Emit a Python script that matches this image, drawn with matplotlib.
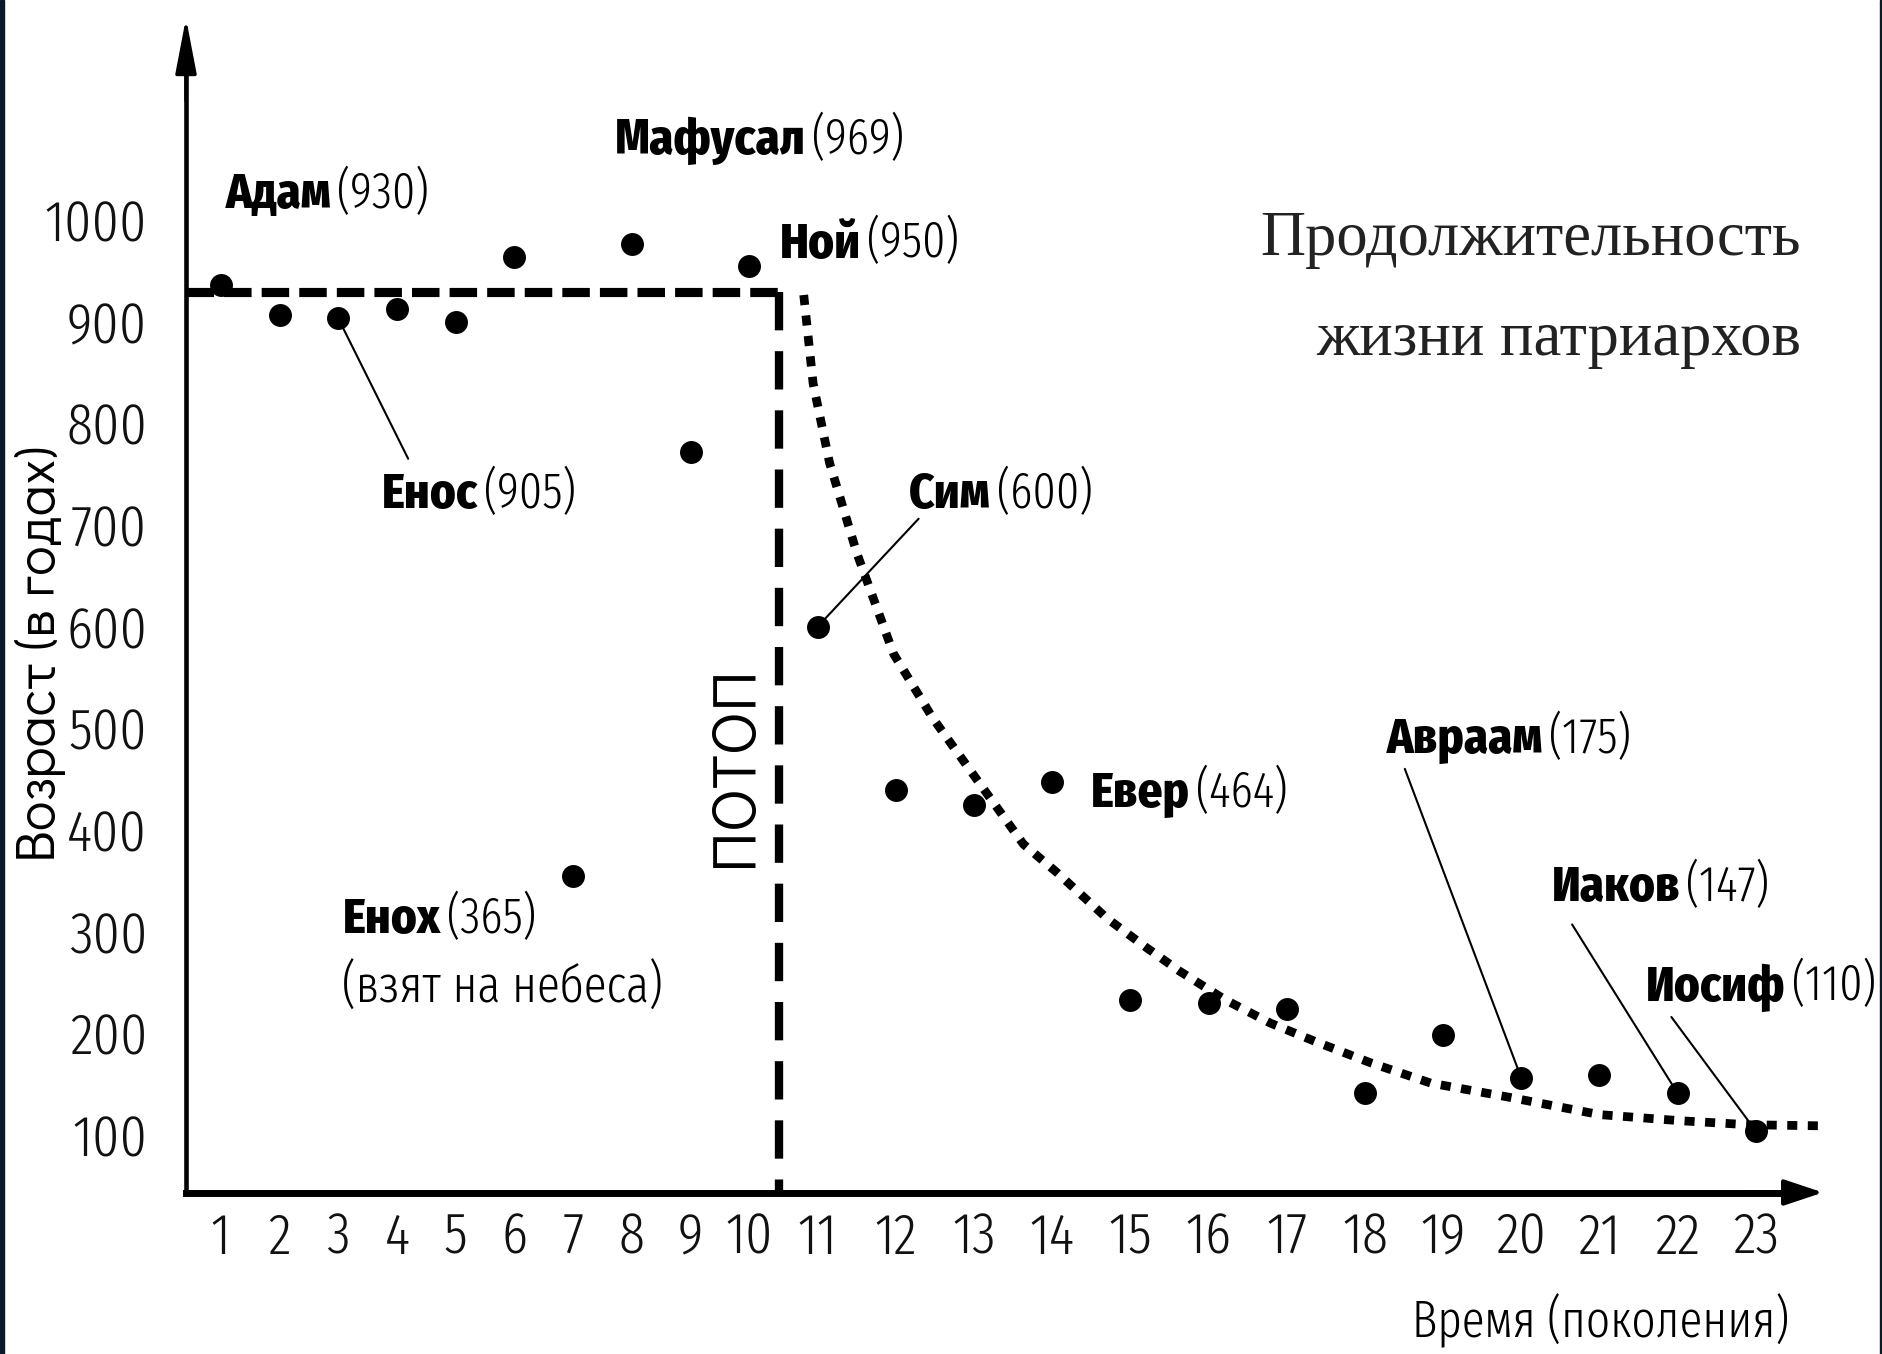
import numpy as np
import matplotlib
matplotlib.use("Agg")
import matplotlib.pyplot as plt
import matplotlib.font_manager as fm
from matplotlib.font_manager import FontProperties
from matplotlib.patches import Rectangle

# ---------------- data ----------------
generations = list(range(1, 24))
ages = [936, 906, 903, 912, 899, 963, 355, 976, 772, 955, 600, 439, 424, 447,
        233, 230, 224, 141, 198, 156, 159, 141, 104]
pre_flood_level = 929
flood_generation = 10.5
trend_gen = [10.82, 10.94, 11.15, 11.50, 11.97, 12.47, 13.17, 13.63, 14.06, 14.70,
             15.19, 15.63, 16.21, 16.79, 17.36, 18.07, 18.84, 19.85, 21.00, 22.03,
             22.92, 23.82]
trend_age = [926, 839, 761, 672, 573, 510, 435, 386, 358, 313, 285, 261, 233, 210,
             192, 171, 151, 137, 120, 114, 110, 109]
y_ticks = [100, 200, 300, 400, 500, 600, 700, 800, 900, 1000]
x_ticks = generations
label_names = ["Адам", "Мафусал", "Ной", "Енос", "Сим", "Евер", "Енох",
               "Авраам", "Иаков", "Иосиф"]
label_values = ["(930)", "(969)", "(950)", "(905)", "(600)", "(464)", "(365)",
                "(175)", "(147)", "(110)"]
title_lines = ["Продолжительность", "жизни патриархов"]

# ---------------- fonts ----------------
avail = {f.name for f in fm.fontManager.ttflist}

def first(*names):
    return [n for n in names if n in avail] + ["DejaVu Sans"]

COND_BOLD = first("Fira Sans Condensed", "Roboto Condensed", "PT Sans Narrow")
COND_LIGHT = first("Fira Sans Extra Condensed", "Fira Sans Condensed", "Roboto Condensed")
GEOM = first("Didact Gothic", "Jost", "Lato")
SERIF = first("Liberation Serif", "Tinos", "DejaVu Serif")

def fp(fam, size, weight="normal"):
    return FontProperties(family=fam, weight=weight, size=size)

# ---------------- piecewise generation scale ----------------
K = 1.331

def fwd(g):
    g = np.asarray(g, dtype=float)
    return np.where(g <= flood_generation, g, flood_generation + K * (g - flood_generation))

def inv(p):
    p = np.asarray(p, dtype=float)
    return np.where(p <= flood_generation, p, flood_generation + (p - flood_generation) / K)

W, H = 1883, 1354
fig = plt.figure(figsize=(W / 100, H / 100), dpi=100)
fig.patch.set_facecolor("white")
ax = fig.add_axes([186 / W, 1 - 1192.5 / H, 1637 / W, 1174.5 / H])
ax.set_xscale("function", functions=(fwd, inv))
XMIN, XMAX = 0.407, 23.86
YMIN, YMAX = 43.4, 1198.4
ax.set_xlim(XMIN, XMAX)
ax.set_ylim(YMIN, YMAX)
ax.set_facecolor("none")

for s in ("top", "right"):
    ax.spines[s].set_visible(False)
ax.spines["left"].set_linewidth(3.3)
ax.spines["bottom"].set_linewidth(5)
ax.spines["left"].set_bounds(YMIN, 1160)
ax.spines["bottom"].set_bounds(XMIN, 23.5)

ax.annotate("", xy=(0, 1), xytext=(0, 0.93), xycoords="axes fraction",
            arrowprops=dict(arrowstyle="-|>,head_length=3.4,head_width=0.65",
                            mutation_scale=10, lw=2.5, color="black",
                            shrinkA=0, shrinkB=0), annotation_clip=False)
ax.annotate("", xy=(1, 0), xytext=(0.95, 0), xycoords="axes fraction",
            arrowprops=dict(arrowstyle="-|>,head_length=2.4,head_width=0.8",
                            mutation_scale=10, lw=3, color="black",
                            shrinkA=0, shrinkB=0), annotation_clip=False)

ax.set_yticks(y_ticks)
ax.set_yticklabels([str(v) for v in y_ticks])
ax.set_xticks(x_ticks)
ax.set_xticklabels([str(g) for g in x_ticks])
ax.xaxis.set_minor_locator(matplotlib.ticker.NullLocator())
ax.tick_params(axis="both", length=0)
ax.tick_params(axis="y", pad=28)
ax.tick_params(axis="x", pad=13)
for lab in ax.get_yticklabels() + ax.get_xticklabels():
    lab.set_fontproperties(fp(COND_LIGHT, 42, 300))
    lab.set_color("#111111")

# pre-flood dashed level and flood line
ax.plot([XMIN, flood_generation], [pre_flood_level, pre_flood_level], color="black",
        lw=6.6, linestyle=(0, (3.0, 1.1)), dash_capstyle="butt", zorder=3)
ax.plot([flood_generation, flood_generation], [pre_flood_level, YMIN], color="black",
        lw=6.0, linestyle=(0, (4.6, 2.5)), dash_capstyle="butt", zorder=3)

# post-flood trend (dotted)
ax.plot(trend_gen, trend_age, color="black", lw=6.3, linestyle=(0, (1.15, 1.2)),
        dash_capstyle="butt", zorder=3)

# points
ax.plot(generations, ages, "o", color="black", ms=15.5, zorder=5, clip_on=False)

# ---------------- labels ----------------
label_pos = {
    "Адам": (1.08, 1011.8),
    "Мафусал": (7.71, 1065),
    "Ной": (10.52, 962.8),
    "Енос": (3.74, 716.5),
    "Сим": (12.17, 716.5),
    "Евер": (14.49, 422.5),
    "Енох": (3.07, 298.5),
    "Авраам": (18.28, 475.7),
    "Иаков": (20.39, 330.3),
    "Иосиф": (21.60, 232.3),
}
name_texts = []
for nm in label_names:
    gx, yv = label_pos[nm]
    t = ax.text(gx, yv, nm, fontproperties=fp(COND_BOLD, 35, 800), ha="left",
                va="baseline", color="black", zorder=6)
    name_texts.append(t)

ax.text(3.07, 230, "(взят на небеса)", fontproperties=fp(COND_LIGHT, 37, 300),
        ha="left", va="baseline", color="black")

ax.text(9.75, 463, "ПОТОП", rotation=90, ha="center", va="center",
        fontproperties=fp(GEOM, 45), color="black")

# leader lines
leaders = {"Енос": (4.19, 765), "Сим": (12.29, 706), "Авраам": (18.51, 460),
           "Иаков": (20.65, 307), "Иосиф": (21.92, 216)}
gen_of = {"Енос": 3, "Сим": 11, "Авраам": 20, "Иаков": 22, "Иосиф": 23}
for nm, (sx, sy) in leaders.items():
    g = gen_of[nm]
    ax.annotate("", xy=(g, ages[g - 1]), xytext=(sx, sy), textcoords="data",
                arrowprops=dict(arrowstyle="-", lw=1.5, color="black",
                                shrinkA=0, shrinkB=0))

fig.text(40 / W, 1 - 654 / H, "Возраст (в годах)", rotation=90, ha="center",
         va="center", fontproperties=fp(GEOM, 40), color="black")
fig.text(1789 / W, 1 - 1321 / H, "Время (поколения)", ha="right", va="center",
         fontproperties=fp(COND_LIGHT, 37, 300), color="black")

fig.text(1801 / W, 1 - 240 / H, title_lines[0], ha="right", va="center",
         fontproperties=fp(SERIF, 45), color="#222222")
fig.text(1801 / W, 1 - 340 / H, title_lines[1], ha="right", va="center",
         fontproperties=fp(SERIF, 45), color="#222222")

# numbers after bold names (same baseline)
fig.canvas.draw()
inv_data = ax.transData.inverted()
for t, val in zip(name_texts, label_values):
    bb = t.get_window_extent()
    gx, yv = t.get_position()
    ydisp = ax.transData.transform((gx, yv))[1]
    nx, ny = inv_data.transform((bb.x1 + 6, ydisp))
    ax.text(nx, yv, val, fontproperties=fp(COND_LIGHT, 36, 300), ha="left",
            va="baseline", color="black", zorder=6)

# frame edges of the scan
fig.add_artist(Rectangle((0, 0), 4 / W, 1, transform=fig.transFigure,
                         color="#0b1a2b", zorder=10))
fig.add_artist(Rectangle((1 - 3 / W, 0), 3 / W, 1, transform=fig.transFigure,
                         color="#0b1a2b", zorder=10))

fig.savefig("out.png", dpi=100, facecolor="white")
